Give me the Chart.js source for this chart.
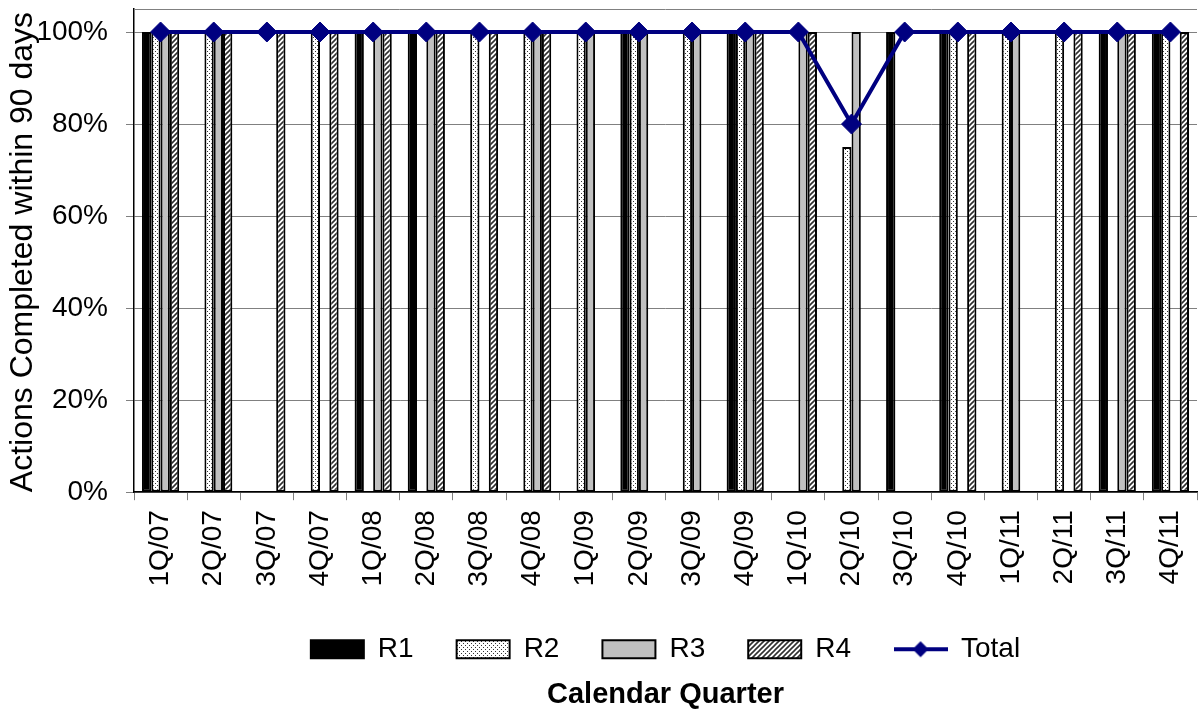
<!DOCTYPE html>
<html lang="en">
<head>
    <meta charset="UTF-8">
    <title>Actions Completed within 90 days</title>
    <script src="https://cdn.jsdelivr.net/npm/chart.js"></script>
    <style>
        body { margin: 0; background: #fff; }
        #chart { display: block; }
    </style>
</head>
<body>
    <canvas id="chart" width="1198" height="712"></canvas>

    <script>
        // Chart values (percent of actions completed within 90 days)
        const quarters = ['1Q/07', '2Q/07', '3Q/07', '4Q/07', '1Q/08', '2Q/08', '3Q/08', '4Q/08',
                          '1Q/09', '2Q/09', '3Q/09', '4Q/09', '1Q/10', '2Q/10', '3Q/10', '4Q/10',
                          '1Q/11', '2Q/11', '3Q/11', '4Q/11'];
        const r1Values = [100, null, null, null, 100, 100, null, null, null, 100, null, 100, null, null, 100, 100, null, null, 100, 100];
        const r2Values = [100, 100, null, 100, null, null, 100, 100, 100, 100, 100, 100, null, 75, null, 100, 100, 100, null, 100];
        const r3Values = [100, 100, null, null, 100, 100, null, 100, 100, 100, 100, 100, 100, 100, null, null, 100, null, 100, null];
        const r4Values = [100, 100, 100, 100, 100, 100, 100, 100, null, null, null, 100, 100, null, null, 100, null, 100, 100, 100];
        const totalValues = [100, 100, 100, 100, 100, 100, 100, 100, 100, 100, 100, 100, 100, 80, 100, 100, 100, 100, 100, 100];
        const yTicks = [0, 20, 40, 60, 80, 100];

        const FONT = "'Liberation Sans', Arial, sans-serif";
        const NAVY = '#000080';

        // fill patterns for the bar series
        function dotPattern() {
            const c = document.createElement('canvas');
            c.width = 4; c.height = 4;
            const g = c.getContext('2d');
            g.fillStyle = '#fff';
            g.fillRect(0, 0, 4, 4);
            g.fillStyle = '#333';
            g.fillRect(1, 1, 1, 1);
            g.fillRect(3, 3, 1, 1);
            return g.createPattern(c, 'repeat');
        }

        function hatchPattern() {
            const s = 5;
            const c = document.createElement('canvas');
            c.width = s; c.height = s;
            const g = c.getContext('2d');
            g.fillStyle = '#fff';
            g.fillRect(0, 0, s, s);
            g.strokeStyle = '#303030';
            g.lineWidth = 1.6;
            g.beginPath();
            g.moveTo(0, s); g.lineTo(s, 0);
            g.moveTo(-1, 1); g.lineTo(1, -1);
            g.moveTo(s - 1, s + 1); g.lineTo(s + 1, s - 1);
            g.stroke();
            return g.createPattern(c, 'repeat');
        }

        // legend icon for the Total line (line with a diamond)
        function lineIcon() {
            const c = document.createElement('canvas');
            c.width = 54; c.height = 22;
            const g = c.getContext('2d');
            g.strokeStyle = NAVY;
            g.lineWidth = 4;
            g.beginPath();
            g.moveTo(0, 11); g.lineTo(54, 11);
            g.stroke();
            g.fillStyle = NAVY;
            g.beginPath();
            g.moveTo(27, 3); g.lineTo(35, 11); g.lineTo(27, 19); g.lineTo(19, 11);
            g.closePath();
            g.fill();
            return c;
        }

        const ctx = document.getElementById('chart').getContext('2d');

        const barStyle = {
            type: 'bar',
            borderColor: '#000',
            borderWidth: 2,
            borderSkipped: false,
            categoryPercentage: 0.7,
            barPercentage: 1.0,
            order: 1
        };

        // keep legend and title centred under the plot area, with a border on top of the plot
        const layoutTweaks = {
            id: 'layoutTweaks',
            afterLayout(chart) {
                const a = chart.chartArea;
                if (chart.legend) { chart.legend.left = a.left; chart.legend.right = a.right; }
                if (chart.titleBlock) { chart.titleBlock.left = a.left; chart.titleBlock.right = a.right; }
            },
            beforeDatasetsDraw(chart) {
                const a = chart.chartArea;
                const c = chart.ctx;
                c.save();
                c.strokeStyle = '#808080';
                c.lineWidth = 1;
                c.beginPath();
                c.moveTo(a.left, a.top + 0.5);
                c.lineTo(a.right, a.top + 0.5);
                c.stroke();
                c.restore();
            }
        };

        function noPad(scale) {
            scale.paddingTop = 0;
            scale.paddingBottom = 0;
            scale.paddingLeft = 0;
            scale.paddingRight = 0;
        }

        new Chart(ctx, {
            data: {
                labels: quarters,
                datasets: [
                    Object.assign({ label: 'R1', data: r1Values, backgroundColor: '#000' }, barStyle),
                    Object.assign({ label: 'R2', data: r2Values, backgroundColor: dotPattern() }, barStyle),
                    Object.assign({ label: 'R3', data: r3Values, backgroundColor: '#c0c0c0' }, barStyle),
                    Object.assign({ label: 'R4', data: r4Values, backgroundColor: hatchPattern() }, barStyle),
                    {
                        type: 'line',
                        label: 'Total',
                        data: totalValues,
                        borderColor: NAVY,
                        backgroundColor: NAVY,
                        borderWidth: 4,
                        tension: 0,
                        pointStyle: 'rectRot',
                        pointRadius: 10,
                        pointBackgroundColor: NAVY,
                        pointBorderColor: NAVY,
                        pointBorderWidth: 1,
                        clip: false,
                        order: 0
                    }
                ]
            },
            options: {
                responsive: false,
                animation: false,
                layout: { autoPadding: false, padding: { top: 9, right: 1, left: 0, bottom: 0 } },
                scales: {
                    x: {
                        offset: true,
                        grid: { drawOnChartArea: false, color: '#808080', tickLength: 8, offset: true },
                        border: { color: '#000', width: 1.5 },
                        ticks: {
                            minRotation: 90, maxRotation: 90, padding: 10, autoSkip: false,
                            color: '#000', font: { family: FONT, size: 28 }
                        },
                        afterFit(scale) { scale.height = 100; noPad(scale); }
                    },
                    y: {
                        min: 0,
                        max: 105,
                        afterBuildTicks(scale) { scale.ticks = yTicks.map(v => ({ value: v })); },
                        grid: { color: '#808080', tickLength: 8, lineWidth: 1 },
                        border: { color: '#000', width: 1.5 },
                        ticks: {
                            padding: 18,
                            color: '#000',
                            font: { family: FONT, size: 28 },
                            callback: v => v + '%'
                        },
                        title: {
                            display: true,
                            align: 'start',
                            text: 'Actions Completed within 90 days',
                            color: '#000',
                            font: { family: FONT, size: 32 },
                            padding: { top: 4, bottom: 0 }
                        },
                        afterFit(scale) { scale.width = 134; noPad(scale); }
                    }
                },
                plugins: {
                    tooltip: { enabled: false },
                    legend: {
                        position: 'bottom',
                        maxHeight: 74,
                        labels: {
                            color: '#000',
                            font: { family: FONT, size: 28 },
                            padding: 43,
                            boxWidth: 53,
                            boxHeight: 18,
                            usePointStyle: true,
                            pointStyleWidth: 53,
                            sort: (a, b) => a.datasetIndex - b.datasetIndex,
                            generateLabels(chart) {
                                const items = Chart.defaults.plugins.legend.labels.generateLabels(chart);
                                items.forEach(item => {
                                    if (item.text === 'Total') {
                                        item.pointStyle = lineIcon();
                                    } else {
                                        item.pointStyle = 'rect';
                                        item.lineWidth = 2;
                                        item.strokeStyle = '#000';
                                    }
                                });
                                return items;
                            }
                        }
                    },
                    title: {
                        display: true,
                        position: 'bottom',
                        text: 'Calendar Quarter',
                        color: '#000',
                        font: { family: FONT, size: 29, weight: 'bold' },
                        padding: { top: 11, bottom: 0 }
                    }
                }
            },
            plugins: [layoutTweaks]
        });
    </script>
</body>
</html>
